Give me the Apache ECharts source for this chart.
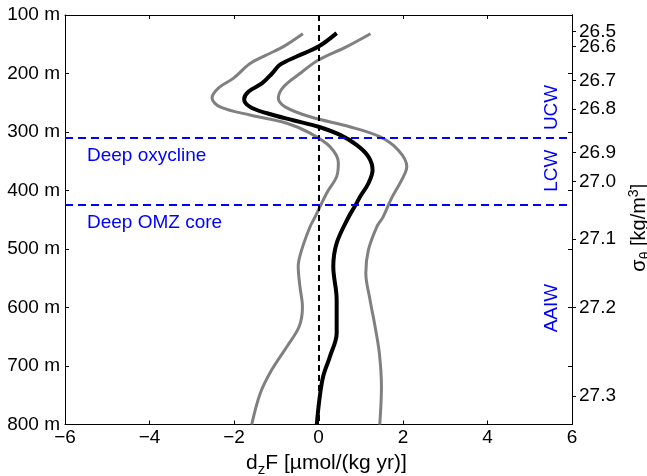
<!DOCTYPE html>
<html>
<head>
<meta charset="utf-8">
<script src="https://cdn.jsdelivr.net/npm/echarts@6/dist/echarts.min.js"></script>
<style>
  html, body { margin: 0; padding: 0; background: #fff; }
  #chart { width: 647px; height: 476px; }
</style>
</head>
<body>
<div id="chart"></div>
<script>
// depth (m) and flux divergence values
const blackDepth = [131, 154, 171, 185, 200, 217, 231, 244, 257, 268, 280, 291, 305, 322, 342, 365, 388, 411, 422, 447, 490, 530, 587, 644, 684, 718, 758, 800];
const blackX = [0.43, 0.0, -0.52, -0.91, -1.1, -1.34, -1.66, -1.76, -1.62, -1.22, -0.6, 0.0, 0.51, 0.9, 1.18, 1.28, 1.18, 0.98, 0.9, 0.7, 0.43, 0.35, 0.43, 0.43, 0.27, 0.11, 0.02, -0.04];

const lowDepth = [132, 154, 168, 183, 208, 225, 242, 257, 271, 285, 302, 325, 353, 376, 405, 445, 462, 502, 530, 564, 599, 633, 667, 707, 747, 800];
const lowX = [-0.37, -0.83, -1.22, -1.62, -2.01, -2.37, -2.52, -2.33, -1.62, -0.75, -0.2, 0.27, 0.47, 0.43, 0.19, -0.08, -0.2, -0.4, -0.48, -0.44, -0.38, -0.46, -0.75, -1.11, -1.38, -1.58];

const highDepth = [132, 154, 177, 200, 223, 242, 257, 274, 291, 308, 331, 359, 382, 413, 445, 462, 502, 541, 587, 633, 678, 735, 800];
const highX = [1.23, 0.67, 0.0, -0.44, -0.83, -0.95, -0.79, -0.2, 0.74, 1.45, 1.89, 2.09, 1.97, 1.73, 1.53, 1.38, 1.18, 1.12, 1.22, 1.34, 1.44, 1.49, 1.45];

// density axis: depth where each sigma-theta tick sits
const sigmaLabels = ['26.5', '26.6', '26.7', '26.8', '26.9', '27.0', '27.1', '27.2', '27.3'];
const sigmaDepths = [128.5, 154, 212, 261, 335, 385, 483, 600, 751];

// layer boundaries and annotations
const boundaryDepths = [310, 424];
const boundaryNames = ['Deep oxycline', 'Deep OMZ core'];
const boundaryLabelDepths = [341, 456];
const waterMasses = ['UCW', 'LCW', 'AAIW'];
const waterMassDepths = [258, 366, 601];

const FONT = 'Liberation Sans, Arial, sans-serif';

function pairs(xs, ds) {
  return xs.map((x, i) => [x, ds[i]]);
}

// labels 26.5 and 26.6 sit very close; split them over two axes so neither gets dropped
const sigmaEven = sigmaDepths.filter((d, i) => i % 2 === 0);
const sigmaOdd = sigmaDepths.filter((d, i) => i % 2 === 1);

const myChart = echarts.init(document.getElementById('chart'));

const tickStyle = { color: '#000', width: 1 };

function sigmaLabelAxis(values, withLine) {
  return {
    type: 'value', min: 100, max: 800, inverse: true, position: 'right',
    axisLine: { show: withLine, onZero: false, lineStyle: { color: '#000', width: 1 } },
    axisTick: { show: withLine, inside: false, length: 4, lineStyle: tickStyle, customValues: sigmaDepths },
    splitLine: { show: false },
    axisLabel: {
      color: '#000', fontSize: 19, fontFamily: FONT, margin: 7,
      customValues: values,
      formatter: v => sigmaLabels[sigmaDepths.indexOf(v)]
    }
  };
}

const sigmaAxisA = sigmaLabelAxis(sigmaEven, true);
sigmaAxisA.name = '{a|\u03c3}{b|\u03b8}{a| [kg/m}{c|3}{a|]}';
sigmaAxisA.nameLocation = 'middle';
sigmaAxisA.nameRotate = 90;
sigmaAxisA.nameGap = 47;
sigmaAxisA.nameTextStyle = {
  color: '#000', fontFamily: FONT, fontSize: 20, padding: [0, 16, 0, 0],
  rich: {
    a: { color: '#000', fontFamily: FONT, fontSize: 20 },
    b: { color: '#000', fontFamily: FONT, fontSize: 14, padding: [12, 0, 0, 0] },
    c: { color: '#000', fontFamily: FONT, fontSize: 14, padding: [0, 0, 12, 0] }
  }
};
const sigmaAxisB = sigmaLabelAxis(sigmaOdd, false);

myChart.setOption({
  animation: false,
  grid: { left: 65, right: 75, top: 15, bottom: 51.5, outerBoundsMode: 'none' },
  xAxis: [
    {
      type: 'value', min: -6, max: 6, interval: 2, position: 'bottom',
      axisLine: { show: true, onZero: false, lineStyle: { color: '#000', width: 1 } },
      axisTick: { show: true, inside: true, length: 4, lineStyle: tickStyle },
      splitLine: { show: false },
      axisLabel: {
        color: '#000', fontSize: 19, fontFamily: FONT, margin: 4,
        formatter: v => (v < 0 ? '\u2212' + (-v) : '' + v)
      },
      name: '{a|d}{b|z}{a|F [\u00b5mol/(kg yr)]}',
      nameLocation: 'middle', nameGap: 24,
      nameTextStyle: {
        color: '#000', fontFamily: FONT, fontSize: 21, padding: [0, 0, 0, 16],
        rich: {
          a: { color: '#000', fontFamily: FONT, fontSize: 21 },
          b: { color: '#000', fontFamily: FONT, fontSize: 15, padding: [13, 0, 0, 0] }
        }
      }
    },
    {
      type: 'value', min: -6, max: 6, interval: 2, position: 'top',
      axisLine: { show: true, onZero: false, lineStyle: { color: '#000', width: 1 } },
      axisTick: { show: true, inside: true, length: 4, lineStyle: tickStyle },
      axisLabel: { show: false },
      splitLine: { show: false }
    }
  ],
  yAxis: [
    {
      type: 'value', min: 100, max: 800, interval: 100, inverse: true, position: 'left',
      axisLine: { show: true, onZero: false, lineStyle: { color: '#000', width: 1 } },
      axisTick: { show: true, inside: true, length: 4, lineStyle: tickStyle },
      splitLine: { show: false },
      axisLabel: {
        color: '#000', fontSize: 19, fontFamily: FONT, margin: 5,
        formatter: v => v + ' m'
      }
    },
    {
      type: 'value', min: 100, max: 800, interval: 100, inverse: true, position: 'right',
      axisLine: { show: true, onZero: false, lineStyle: { color: '#000', width: 1 } },
      axisTick: { show: true, inside: true, length: 4, lineStyle: tickStyle },
      axisLabel: { show: false },
      splitLine: { show: false }
    },
    sigmaAxisA,
    sigmaAxisB
  ],
  series: [
    {
      name: 'lower', type: 'line', xAxisIndex: 0, yAxisIndex: 0,
      data: pairs(lowX, lowDepth), smooth: 0.35, showSymbol: false,
      lineStyle: { color: '#808080', width: 3 }
    },
    {
      name: 'upper', type: 'line', xAxisIndex: 0, yAxisIndex: 0,
      data: pairs(highX, highDepth), smooth: 0.35, showSymbol: false,
      lineStyle: { color: '#808080', width: 3 }
    },
    {
      name: 'mean', type: 'line', xAxisIndex: 0, yAxisIndex: 0,
      data: pairs(blackX, blackDepth), smooth: 0.35, showSymbol: false,
      lineStyle: { color: '#000', width: 4 },
      z: 3
    },
    {
      name: 'refs', type: 'line', xAxisIndex: 0, yAxisIndex: 0, data: [],
      markLine: {
        silent: true, symbol: 'none', label: { show: false },
        data: [
          { xAxis: 0, lineStyle: { color: '#000', width: 2, type: [6, 4] } },
          ...boundaryDepths.map(d => ({ yAxis: d, lineStyle: { color: '#0000ff', width: 2, type: [8, 5] } }))
        ]
      }
    },
    {
      name: 'boundaryText', type: 'scatter', xAxisIndex: 0, yAxisIndex: 0,
      symbolSize: 0, silent: true, itemStyle: { opacity: 1 },
      data: boundaryNames.map((n, i) => ({ value: [-5.48, boundaryLabelDepths[i]], name: n })),
      label: {
        show: true, position: 'right', distance: 0, formatter: p => p.name,
        color: '#0000ff', fontSize: 19, fontFamily: FONT
      }
    },
    {
      name: 'waterMass', type: 'scatter', xAxisIndex: 0, yAxisIndex: 0,
      symbolSize: 0, silent: true, itemStyle: { opacity: 1 },
      data: waterMasses.map((n, i) => ({ value: [5.51, waterMassDepths[i]], name: n })),
      label: {
        show: true, position: 'inside', rotate: 90, formatter: p => p.name,
        color: '#0000ff', fontSize: 19, fontFamily: FONT
      }
    }
  ]
});
</script>
</body>
</html>
